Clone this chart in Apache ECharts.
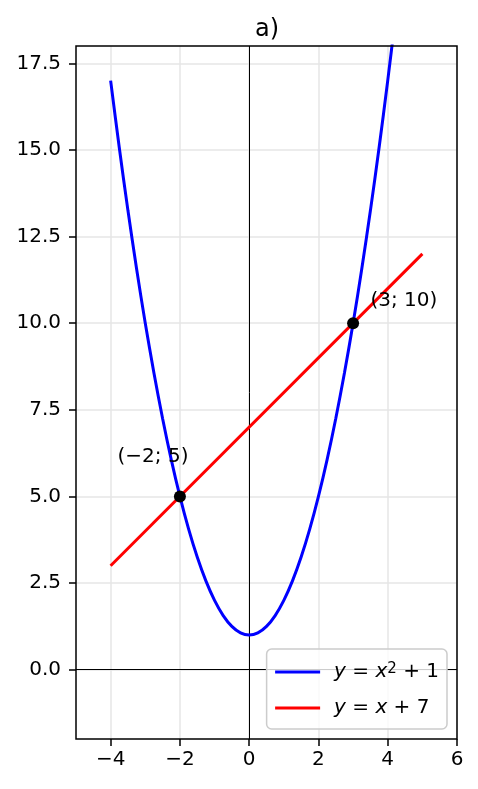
<!DOCTYPE html>
<html>
<head>
<meta charset="utf-8">
<script src="https://cdn.jsdelivr.net/npm/echarts@6/dist/echarts.min.js"></script>
<style>html,body{margin:0;padding:0;background:#fff;}#c{width:478px;height:789px;}</style>
</head>
<body>
<div id="c"></div>
<script>
// Parabola samples
const parabolaX = [-4,-3.75,-3.5,-3.25,-3,-2.75,-2.5,-2.25,-2,-1.75,-1.5,-1.25,-1,-0.75,-0.5,-0.25,0,0.25,0.5,0.75,1,1.25,1.5,1.75,2,2.25,2.5,2.75,3,3.25,3.5,3.75,4,4.25];
const parabolaY = [17,15.0625,13.25,11.5625,10,8.5625,7.25,6.0625,5,4.0625,3.25,2.5625,2,1.5625,1.25,1.0625,1,1.0625,1.25,1.5625,2,2.5625,3.25,4.0625,5,6.0625,7.25,8.5625,10,11.5625,13.25,15.0625,17,19.0625];
// Red line end points
const lineX = [-4, 5];
const lineY = [3, 12];
// Intersection points
const pointX = [-2, 3];
const pointY = [5, 10];
// Annotations
const annotX = [-3.8, 3.5];
const annotY = [6, 10.5];
const annotText = ['(\u22122; 5)', '(3; 10)'];
// Ticks
const xTicks = [-4, -2, 0, 2, 4, 6];
const yTicks = [0, 2.5, 5, 7.5, 10, 12.5, 15, 17.5];
const xRange = [-5, 6];
const yRange = [-2, 18];
const seriesNames = ['y = x^2 + 1', 'y = x + 7'];
const titleText = 'a)';

const FONT = 'DejaVu Sans';
const zip = (a, b) => a.map((v, i) => [v, b[i]]);
const fmtMinus = s => String(s).replace('-', '\u2212');

const GRID = {left: 76, right: 21, top: 46, bottom: 50};
const W = 478, H = 789;

const chart = echarts.init(document.getElementById('c'), null, {renderer: 'canvas'});
const gridLineColor = '#e6e6e6';
const option = {
  animation: false,
  backgroundColor: '#fff',
  textStyle: {fontFamily: FONT},
  title: {
    text: titleText, left: 262, top: 13, textAlign: 'center',
    textStyle: {fontFamily: FONT, fontSize: 24, fontWeight: 'normal', color: '#000'}
  },
  grid: {
    left: GRID.left, right: GRID.right, top: GRID.top, bottom: GRID.bottom,
    outerBoundsMode: 'none', containLabel: false, show: false
  },
  graphic: [{
    type: 'rect', z: 100, silent: true,
    shape: {x: GRID.left, y: GRID.top, width: W - GRID.left - GRID.right, height: H - GRID.top - GRID.bottom},
    style: {fill: 'none', stroke: '#000', lineWidth: 1.5}
  }],
  xAxis: {
    type: 'value', min: xRange[0], max: xRange[1],
    axisLine: {show: false, onZero: false},
    axisTick: {show: true, inside: false, length: 7, lineStyle: {color: '#000', width: 1.5}, customValues: xTicks},
    axisLabel: {customValues: xTicks, margin: 11, color: '#000', fontSize: 20, fontFamily: FONT, formatter: v => fmtMinus(v)},
    splitLine: {show: true, lineStyle: {color: gridLineColor, width: 1.5}}
  },
  yAxis: {
    type: 'value', min: yRange[0], max: yRange[1],
    axisLine: {show: false, onZero: false},
    axisTick: {show: true, inside: false, length: 7, lineStyle: {color: '#000', width: 1.5}, customValues: yTicks},
    axisLabel: {customValues: yTicks, margin: 15, color: '#000', fontSize: 20, fontFamily: FONT, formatter: v => fmtMinus(v.toFixed(1))},
    splitLine: {show: true, lineStyle: {color: gridLineColor, width: 1.5}}
  },
  legend: {
    orient: 'vertical', right: 31, bottom: 60,
    data: seriesNames,
    itemWidth: 45, itemHeight: 20, itemGap: 16,
    padding: [13, 8, 11, 7],
    backgroundColor: 'rgba(255,255,255,0.8)',
    borderColor: '#cccccc', borderWidth: 1.5, borderRadius: 5,
    itemStyle: {opacity: 0},
    lineStyle: {width: 3},
    formatter: name => name === seriesNames[0]
      ? '{i|y} = {i|x}{s|2} + 1'
      : '{i|y} = {i|x} + 7',
    textStyle: {
      fontFamily: FONT, fontSize: 20, color: '#000', padding: [0, 0, 0, 9],
      rich: {
        i: {fontFamily: FONT, fontStyle: 'italic', fontSize: 20, color: '#000'},
        s: {fontFamily: FONT, fontSize: 15, color: '#000', verticalAlign: 'top', lineHeight: 14}
      }
    }
  },
  series: [
    {
      name: seriesNames[0], type: 'line', data: zip(parabolaX, parabolaY),
      symbol: 'none', clip: true, z: 3, smooth: 0.3,
      lineStyle: {color: '#0000ff', width: 3}, itemStyle: {color: '#0000ff'},
      markLine: {
        silent: true, symbol: 'none', animation: false, label: {show: false},
        lineStyle: {color: '#000', width: 1, type: 'solid'},
        data: [{xAxis: 0}, {yAxis: 0}], z: 1
      }
    },
    {
      name: seriesNames[1], type: 'line', data: zip(lineX, lineY),
      symbol: 'none', clip: true, z: 3,
      lineStyle: {color: '#ff0000', width: 3}, itemStyle: {color: '#ff0000'}
    },
    {
      name: 'points', type: 'scatter', data: zip(pointX, pointY),
      symbol: 'circle', symbolSize: 12, z: 5,
      itemStyle: {color: '#000', opacity: 1}
    },
    {
      name: 'annotations', type: 'scatter', symbolSize: 0, z: 6, silent: true,
      itemStyle: {color: '#000', opacity: 1},
      data: annotX.map((x, i) => ({value: [x, annotY[i]], label: {formatter: annotText[i], color: '#000'}})),
      label: {
        show: true, position: [0, 0], align: 'left', verticalAlign: 'bottom', offset: [0, 5],
        fontFamily: FONT, fontSize: 20, color: '#000', opacity: 1, textBorderWidth: 0
      }
    }
  ]
};
chart.setOption(option);
</script>
</body>
</html>
